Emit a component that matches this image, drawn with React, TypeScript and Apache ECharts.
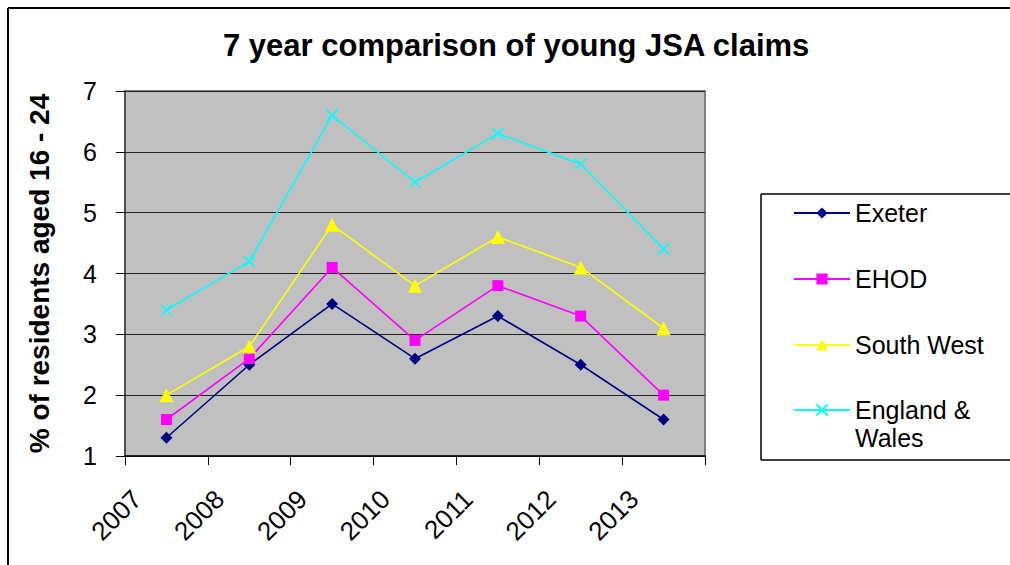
import React, { useEffect, useRef } from "react";
import * as echarts from "echarts";

const categories = ["2007", "2008", "2009", "2010", "2011", "2012", "2013"];
const exeter = [1.3, 2.5, 3.5, 2.6, 3.3, 2.5, 1.6];
const ehod = [1.6, 2.6, 4.1, 2.9, 3.8, 3.3, 2.0];
const southWest = [2.0, 2.8, 4.8, 3.8, 4.6, 4.1, 3.1];
const englandWales = [3.4, 4.2, 6.6, 5.5, 6.3, 5.8, 4.4];
const yTicks = { min: 1, max: 7, interval: 1 };

const FONT = '"Liberation Sans", Arial, sans-serif';
const CROSS = "path://M0,0L10,10M10,0L0,10";

export default function App() {
  const ref = useRef<HTMLDivElement>(null);
  useEffect(() => {
    if (!ref.current) return;
    const chart = echarts.init(ref.current, null, { renderer: "svg" });
    const mkSeries = (name: string, data: number[], color: string, symbol: string, size: number, extra: any = {}) => ({
      name,
      type: "line",
      data,
      symbol,
      symbolSize: size,
      lineStyle: { color, width: 1.6 },
      itemStyle: { color, borderColor: color, borderWidth: 0, ...extra },
      emphasis: { disabled: true },
    });
    const frame = { fill: "none", stroke: "#000", lineWidth: 2 };
    const box = { stroke: "#000", lineWidth: 1.5 };
    chart.setOption({
      animation: false,
      backgroundColor: "#ffffff",
      title: {
        text: "7 year comparison of young JSA claims",
        left: 223,
        top: 28,
        padding: 0,
        textStyle: { fontFamily: FONT, fontSize: 31, fontWeight: "bold", color: "#000", lineHeight: 34 },
      },
      graphic: [
        { type: "line", shape: { x1: 8, y1: 8, x2: 1010, y2: 8 }, style: frame, silent: true },
        { type: "line", shape: { x1: 8, y1: 8, x2: 8, y2: 565 }, style: frame, silent: true },
        { type: "line", shape: { x1: 761, y1: 194, x2: 1010, y2: 194 }, style: box, silent: true },
        { type: "line", shape: { x1: 761, y1: 194, x2: 761, y2: 460 }, style: box, silent: true },
        { type: "line", shape: { x1: 761, y1: 460, x2: 1010, y2: 460 }, style: box, silent: true },
      ],
      legend: [
        {
          orient: "vertical",
          left: 793,
          top: 200.5,
          padding: 0,
          itemWidth: 56,
          itemHeight: 14,
          itemGap: 41,
          selectedMode: false,
          data: ["Exeter", "EHOD", "South West"],
          textStyle: { fontFamily: FONT, fontSize: 25, color: "#000", lineHeight: 25 },
        },
        {
          orient: "vertical",
          left: 793,
          top: 368,
          padding: 0,
          itemWidth: 56,
          itemHeight: 14,
          selectedMode: false,
          data: ["England & Wales"],
          formatter: () => "\nEngland &\nWales",
          textStyle: { fontFamily: FONT, fontSize: 25, color: "#000", lineHeight: 28 },
        },
      ],
      grid: {
        left: 125,
        top: 91,
        width: 580,
        height: 365,
        show: true,
        backgroundColor: "#C0C0C0",
        borderColor: "#808080",
        borderWidth: 2,
      },
      xAxis: {
        type: "category",
        data: categories,
        boundaryGap: true,
        axisLine: { lineStyle: { color: "#000", width: 1.5 } },
        axisTick: { show: true, length: 9, lineStyle: { color: "#000" } },
        axisLabel: {
          interval: 0,
          rotate: 45,
          margin: 9,
          padding: [0, 42, 0, 0],
          fontFamily: FONT,
          fontSize: 26,
          color: "#000",
        },
      },
      yAxis: {
        type: "value",
        min: yTicks.min,
        max: yTicks.max,
        interval: yTicks.interval,
        name: "% of residents aged 16 - 24",
        nameLocation: "middle",
        nameGap: 72,
        nameTextStyle: { fontFamily: FONT, fontSize: 28, fontWeight: "bold", color: "#000" },
        axisLine: { show: true, lineStyle: { color: "#404040", width: 1.5 } },
        axisTick: { show: true, length: 9, lineStyle: { color: "#000" } },
        axisLabel: { margin: 28, fontFamily: FONT, fontSize: 25, color: "#000" },
        splitLine: { show: true, lineStyle: { color: "#222", width: 1 } },
      },
      series: [
        mkSeries("Exeter", exeter, "#000080", "diamond", 12),
        mkSeries("EHOD", ehod, "#FF00FF", "rect", 11),
        mkSeries("South West", southWest, "#FFFF00", "triangle", 14),
        mkSeries("England & Wales", englandWales, "#00FFFF", CROSS, 11, { borderWidth: 1.6, color: "#00FFFF" }),
      ],
    });
    return () => chart.dispose();
  }, []);
  return (
    <div
      ref={ref}
      style={{ position: "absolute", left: 0, top: 0, width: 1010, height: 565 }}
    />
  );
}
